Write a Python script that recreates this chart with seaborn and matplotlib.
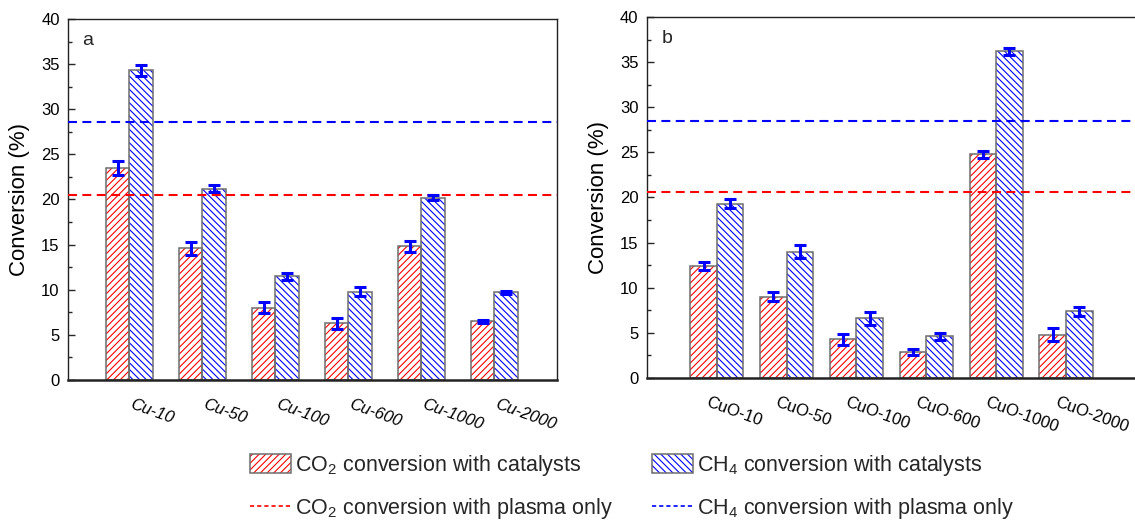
import matplotlib
matplotlib.use("Agg")
import matplotlib.pyplot as plt
import seaborn as sns
import pandas as pd
from matplotlib.patches import Patch, Rectangle
from matplotlib.lines import Line2D
from matplotlib.legend_handler import HandlerTuple
from matplotlib.ticker import MultipleLocator, AutoMinorLocator
from matplotlib.transforms import ScaledTranslation

# panel a: Cu catalysts
samples_a = ["Cu-10", "Cu-50", "Cu-100", "Cu-600", "Cu-1000", "Cu-2000"]
co2_a = [23.5, 14.6, 8.0, 6.3, 14.8, 6.5]
co2_a_err = [0.75, 0.7, 0.6, 0.6, 0.6, 0.2]
ch4_a = [34.3, 21.2, 11.5, 9.8, 20.2, 9.7]
ch4_a_err = [0.6, 0.35, 0.4, 0.5, 0.3, 0.15]
co2_plasma_a = 20.5
ch4_plasma_a = 28.6

# panel b: CuO catalysts
samples_b = ["CuO-10", "CuO-50", "CuO-100", "CuO-600", "CuO-1000", "CuO-2000"]
co2_b = [12.4, 9.0, 4.3, 2.9, 24.8, 4.8]
co2_b_err = [0.4, 0.5, 0.6, 0.3, 0.4, 0.7]
ch4_b = [19.3, 14.0, 6.6, 4.6, 36.2, 7.4]
ch4_b_err = [0.5, 0.7, 0.7, 0.4, 0.4, 0.5]
co2_plasma_b = 20.6
ch4_plasma_b = 28.5

sns.set_style("ticks")
plt.rcParams["font.family"] = ["Liberation Sans", "DejaVu Sans"]
plt.rcParams["mathtext.default"] = "regular"
plt.rcParams["hatch.linewidth"] = 0.8

fig = plt.figure(figsize=(11.35, 5.24), dpi=100)
ax1 = fig.add_axes([0.0599, 0.2748, 0.4308, 0.689])
ax2 = fig.add_axes([0.570, 0.2786, 0.4344, 0.689])

dash_main = (0, (4.3, 2.6))
hatch_co2 = "/////"
hatch_ch4 = "\\\\\\\\\\"


def draw_panel(ax, samples, co2, co2_err, ch4, ch4_err, co2_pl, ch4_pl,
               width, xlim, letter, style, dx):
    n = len(samples)
    df = pd.DataFrame({
        "sample": samples * 2,
        "conv": co2 + ch4,
        "gas": ["CO2"] * n + ["CH4"] * n,
    })
    sns.barplot(data=df, x="sample", y="conv", hue="gas", hue_order=["CO2", "CH4"],
                palette={"CO2": "red", "CH4": "blue"}, width=width,
                errorbar=None, legend=False, ax=ax)
    for cont, color, hatch, err in zip(ax.containers, ["red", "blue"],
                                       [hatch_co2, hatch_ch4], [co2_err, ch4_err]):
        for bar in cont:
            bar.set_facecolor("white")
            bar.set_edgecolor(color)
            bar.set_hatch(hatch)
            bar.set_linewidth(0)
            ax.add_patch(Rectangle(bar.get_xy(), bar.get_width(), bar.get_height(),
                                   fill=False, ec="#6e6e6e", lw=1.1, zorder=2.5))
        xs = [b.get_x() + b.get_width() / 2 for b in cont]
        ys = [b.get_height() for b in cont]
        ax.errorbar(xs, ys, yerr=err, fmt="none", ecolor="blue", elinewidth=2.2,
                    capsize=4, capthick=2.2, zorder=5)

    ax.axhline(co2_pl, color="red", ls=dash_main, lw=1.5, zorder=4)
    ax.axhline(ch4_pl, color="blue", ls=dash_main, lw=1.5, zorder=4)

    ax.set_xlim(*xlim)
    ax.set_ylim(0, 40)
    ax.yaxis.set_major_locator(MultipleLocator(5))
    ax.yaxis.set_minor_locator(AutoMinorLocator(2))
    ax.tick_params(axis="y", which="major", direction="in", length=5, width=1,
                   pad=6, labelsize=12, labelcolor="black")
    ax.tick_params(axis="y", which="minor", direction="in", length=3, width=1)
    ax.set_xticks(range(n))
    ax.set_xticklabels(samples, rotation=-20, ha="left", va="top",
                       rotation_mode="anchor", fontsize=12, fontstyle=style, color="black")
    ax.tick_params(axis="x", length=0, pad=12)
    for lab in ax.get_xticklabels():
        lab.set_transform(lab.get_transform() + ScaledTranslation(dx / 100, 0, fig.dpi_scale_trans))
    ax.set_xlabel("")
    ax.set_ylabel("Conversion (%)", fontsize=16, labelpad=8, color="black")
    for side in ["top", "right", "left"]:
        ax.spines[side].set_linewidth(1.0)
        ax.spines[side].set_color("#222222")
    ax.spines["bottom"].set_linewidth(1.8)
    ax.spines["bottom"].set_color("#222222")
    ax.text(0.029, 0.965, letter, transform=ax.transAxes, va="top", ha="left", fontsize=14)


draw_panel(ax1, samples_a, co2_a, co2_a_err, ch4_a, ch4_a_err, co2_plasma_a, ch4_plasma_a,
           0.64, (-0.84, 5.86), "a", "italic", 4)
draw_panel(ax2, samples_b, co2_b, co2_b_err, ch4_b, ch4_b_err, co2_plasma_b, ch4_plasma_b,
           0.76, (-1.0, 6.06), "b", "normal", -8)

h_co2 = (Patch(facecolor="none", edgecolor="red", hatch=hatch_co2, lw=0),
         Patch(facecolor="none", edgecolor="#6e6e6e", lw=1.1))
h_ch4 = (Patch(facecolor="none", edgecolor="blue", hatch=hatch_ch4, lw=0),
         Patch(facecolor="none", edgecolor="#6e6e6e", lw=1.1))
l_co2 = Line2D([], [], color="red", lw=1.2, ls=(0, (2.5, 1.8)))
l_ch4 = Line2D([], [], color="blue", lw=1.2, ls=(0, (2.5, 1.8)))

fig.legend([h_co2, l_co2, h_ch4, l_ch4],
           ["CO$_2$ conversion with catalysts", "CO$_2$ conversion with plasma only",
            "CH$_4$ conversion with catalysts", "CH$_4$ conversion with plasma only"],
           ncol=2, loc="upper left", bbox_to_anchor=(0.2106, 0.156), frameon=False,
           borderpad=0, fontsize=15.5, handlelength=1.9, handleheight=1.0,
           handletextpad=0.2, columnspacing=1.8, labelspacing=0.85,
           handler_map={tuple: HandlerTuple(ndivide=1, pad=0)})

fig.savefig("out.png", dpi=100)
